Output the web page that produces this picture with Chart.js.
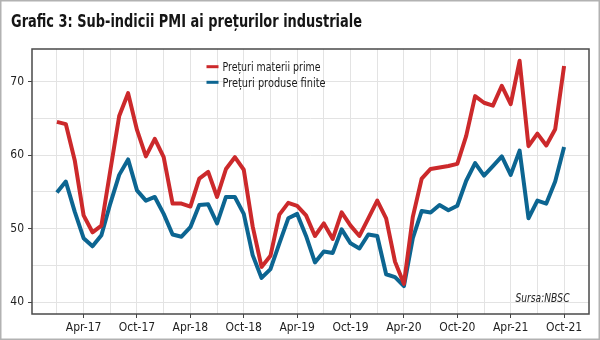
<!DOCTYPE html>
<html><head><meta charset="utf-8">
<script src="https://cdn.jsdelivr.net/npm/chart.js@4/dist/chart.umd.min.js"></script>
<style>html,body{margin:0;padding:0;background:#fff;overflow:hidden}#wrap{width:600px;height:340px;position:relative}canvas{display:block}</style>
</head><body><div id="wrap"><canvas id="c" width="600" height="340"></canvas></div>
<script>
const months = [
 'Jan-17','Feb-17','Mar-17','Apr-17','May-17','Jun-17','Jul-17','Aug-17','Sep-17','Oct-17','Nov-17','Dec-17',
 'Jan-18','Feb-18','Mar-18','Apr-18','May-18','Jun-18','Jul-18','Aug-18','Sep-18','Oct-18','Nov-18','Dec-18',
 'Jan-19','Feb-19','Mar-19','Apr-19','May-19','Jun-19','Jul-19','Aug-19','Sep-19','Oct-19','Nov-19','Dec-19',
 'Jan-20','Feb-20','Mar-20','Apr-20','May-20','Jun-20','Jul-20','Aug-20','Sep-20','Oct-20','Nov-20','Dec-20',
 'Jan-21','Feb-21','Mar-21','Apr-21','May-21','Jun-21','Jul-21','Aug-21','Sep-21','Oct-21'];
const rawMaterials = [
 64.5,64.2,59.3,51.8,49.5,50.4,57.9,65.3,68.4,63.4,59.8,62.2,
 59.7,53.4,53.4,53.0,56.8,57.7,54.3,58.1,59.7,58.0,50.3,44.8,
 46.3,51.9,53.5,53.1,51.8,49.0,50.7,48.6,52.2,50.4,49.0,51.4,
 53.8,51.4,45.5,42.5,51.6,56.8,58.1,58.3,58.5,58.8,62.6,68.0,
 67.1,66.7,69.4,66.9,72.8,61.2,62.9,61.3,63.5,72.1];
const finishedGoods = [
 54.9,56.4,52.3,48.7,47.6,49.1,53.4,57.3,59.4,55.2,53.8,54.3,
 52.0,49.2,48.9,50.2,53.2,53.3,50.7,54.3,54.3,52.0,46.4,43.3,
 44.5,48.0,51.4,52.0,49.0,45.4,46.9,46.7,49.9,48.0,47.3,49.2,
 49.0,43.8,43.4,42.2,48.7,52.4,52.2,53.2,52.5,53.1,56.5,58.9,
 57.2,58.5,59.8,57.3,60.6,51.4,53.8,53.4,56.4,61.1];
const xTickLabels = ['Apr-17','Oct-17','Apr-18','Oct-18','Apr-19','Oct-19','Apr-20','Oct-20','Apr-21','Oct-21'];
const yTickLabels = [40,50,60,70];
const yGrid = [40,45,50,55,60,65,70];
const seriesNames = ['Prețuri materii prime','Prețuri produse finite'];
const titleText = 'Grafic 3: Sub-indicii PMI ai prețurilor industriale';
const sourceText = 'Sursa:NBSC';

const FF = "'Liberation Sans Narrow','DejaVu Sans Condensed','Roboto Condensed','Open Sans Condensed','Roboto',sans-serif";
const RED = '#cc292b', BLUE = '#0c6591';

function fitText(c, txt, x, y, w, font, color, align){
  c.save(); c.font = font; const m = c.measureText(txt).width;
  c.translate(align==='right' ? x - w : x, y); c.scale(w/m, 1);
  c.fillStyle = color; c.textBaseline = 'alphabetic'; c.textAlign='left';
  c.fillText(txt, 0, 0); c.restore();
}
const deco = {
  id:'deco',
  afterDraw(chart){
    const c = chart.ctx, a = chart.chartArea;
    c.save();
    c.strokeStyle = '#4a4a4a'; c.lineWidth = 1.5;
    c.strokeRect(a.left, a.top, a.right - a.left, a.bottom - a.top);
    c.strokeStyle = '#b2b2b2'; c.lineWidth = 1.5;
    c.strokeRect(0.75, 0.75, 598.5, 338.5);
    fitText(c, titleText, 11, 26.7, 351, 'bold 17px ' + FF, '#151515');
    const rows = [[66.7, 98], [82.3, 103]];
    chart.data.datasets.forEach((ds, i) => {
      const [yy, w] = rows[i];
      c.strokeStyle = ds.borderColor; c.lineWidth = 3; c.lineCap = 'butt';
      c.beginPath(); c.moveTo(206.5, yy); c.lineTo(218.5, yy); c.stroke();
      fitText(c, ds.label, 222.5, yy + 4.5, w, '13px ' + FF, '#1a1a1a');
    });
    fitText(c, sourceText, 569.5, 302, 54, 'italic 12px ' + FF, '#222', 'right');
    c.restore();
  }
};

new Chart(document.getElementById('c'), {
  type: 'line',
  data: {
    datasets: [
      { label: seriesNames[0], data: rawMaterials.map((v,i)=>({x:i,y:v})), borderColor: RED, backgroundColor: RED,
        borderWidth: 4, pointRadius: 0, tension: 0, borderJoinStyle:'round', fill:false },
      { label: seriesNames[1], data: finishedGoods.map((v,i)=>({x:i,y:v})), borderColor: BLUE, backgroundColor: BLUE,
        borderWidth: 4, pointRadius: 0, tension: 0, borderJoinStyle:'round', fill:false }
    ]
  },
  options: {
    responsive: false, devicePixelRatio: 1, animation: false,
    layout: { padding: { top: 49, right: 11, left: 0, bottom: 0 } },
    plugins: { legend: { display: false }, title: { display: false }, tooltip: { enabled: false } },
    scales: {
      x: {
        type: 'linear', min: -2.8, max: 59.8,
        afterBuildTicks: s => { s.ticks = months.map((m,i)=>i).filter(i => i % 3 === 0).map(v => ({ value: v })); },
        afterFit: s => { s.height = 26; },
        ticks: { autoSkip: false, maxRotation: 0, padding: 3, color: '#222', font: { family: FF, size: 12 },
          callback: v => xTickLabels.includes(months[v]) ? months[v] : '' },
        grid: { color: '#e3e3e3', lineWidth: 1, tickLength: 4,
          tickColor: ctx => (ctx.tick && xTickLabels.includes(months[ctx.tick.value])) ? '#444' : 'rgba(0,0,0,0)' },
        border: { display: false }
      },
      y: {
        min: 38.4, max: 74.4,
        afterBuildTicks: s => { s.ticks = yGrid.map(v => ({ value: v })); },
        afterFit: s => { s.width = 32; },
        ticks: { padding: 4, color: '#222', font: { family: FF, size: 12 },
          callback: v => yTickLabels.includes(v) ? String(v) : '' },
        grid: { color: '#e3e3e3', lineWidth: 1, tickLength: 4,
          tickColor: ctx => (ctx.tick && yTickLabels.includes(ctx.tick.value)) ? '#444' : 'rgba(0,0,0,0)' },
        border: { display: false }
      }
    }
  },
  plugins: [deco]
});
</script></body></html>
